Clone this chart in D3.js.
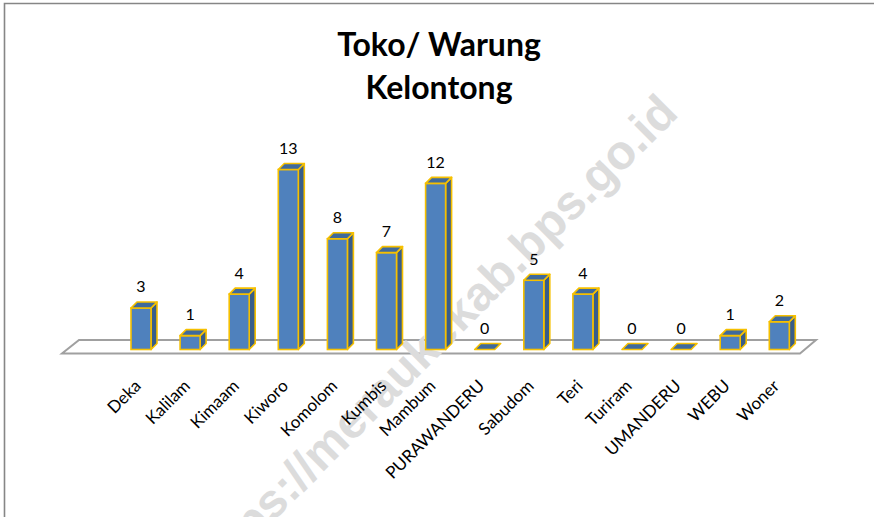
<!DOCTYPE html>
<html>
<head>
<meta charset="utf-8">
<script src="https://cdn.jsdelivr.net/npm/d3@7"></script>
<style>
  html, body { margin: 0; padding: 0; background: #fff; }
  svg { display: block; }
</style>
</head>
<body>
<svg id="chart" width="874" height="517"></svg>
<script>
const categories = ["Deka", "Kalilam", "Kimaam", "Kiworo", "Komolom", "Kumbis", "Mambum",
                    "PURAWANDERU", "Sabudom", "Teri", "Turiram", "UMANDERU", "WEBU", "Woner"];
const values = [3, 1, 4, 13, 8, 7, 12, 0, 5, 4, 0, 0, 1, 2];
const titleLines = ["Toko/ Warung", "Kelontong"];
const watermarkText = "https://meraukekab.bps.go.id";

(function () {
const W = 874, H = 517;
const svg = d3.select("#chart");

// frame (left + top border)
svg.append("path")
  .attr("d", `M4.5,${H} L4.5,3.5 L${W},3.5`)
  .attr("fill", "none").attr("stroke", "#868686").attr("stroke-width", 1.6);

// scales
const x = d3.scalePoint().domain(categories).range([141, 779.3]);
const y = d3.scaleLinear().domain([0, 13]).range([349.5, 169.5]);
const barW = 20, dx = 6, dy = -6;

// floor
const floorFront = 353.5, floorBack = 340;
const fl = { x0: 62, x1: 800, bx0: 79, bx1: 816 };
svg.append("path")
  .attr("d", `M${fl.x0},${floorFront} L${fl.x1},${floorFront} L${fl.bx1},${floorBack} L${fl.bx0},${floorBack} Z`)
  .attr("fill", "#fff").attr("stroke", "#a0a0a0").attr("stroke-width", 2);

// watermark
svg.append("text")
  .attr("transform", "translate(680,115) rotate(-45)")
  .attr("text-anchor", "end")
  .attr("font-family", "Liberation Sans, Arial, sans-serif")
  .attr("font-weight", "bold")
  .attr("font-size", 48)
  .attr("fill", "#dcdcdc")
  .text(watermarkText);

// bars
const stroke = "#F6C000", sw = 1.6;
const frontCol = "#4F81BD", sideCol = "#385D8A", topCol = "#3F6A9C";
const g = svg.append("g");
categories.forEach((c, i) => {
  const v = values[i];
  const cx = x(c), x0 = cx - barW / 2, x1 = cx + barW / 2;
  const y0 = y(0), y1 = y(v);
  const bg = g.append("g");
  if (v > 0) {
    bg.append("path")
      .attr("d", `M${x1},${y1} L${x1 + dx},${y1 + dy} L${x1 + dx},${y0 + dy} L${x1},${y0} Z`)
      .attr("fill", sideCol).attr("stroke", stroke).attr("stroke-width", sw).attr("stroke-linejoin", "round");
    bg.append("rect")
      .attr("x", x0).attr("y", y1).attr("width", barW).attr("height", y0 - y1)
      .attr("fill", frontCol).attr("stroke", stroke).attr("stroke-width", sw);
  }
  bg.append("path")
    .attr("d", `M${x0},${y1} L${x1},${y1} L${x1 + dx},${y1 + dy} L${x0 + dx},${y1 + dy} Z`)
    .attr("fill", topCol).attr("stroke", stroke).attr("stroke-width", sw).attr("stroke-linejoin", "round");
  svg.append("text")
    .attr("x", cx).attr("y", y1 - 15.5)
    .attr("text-anchor", "middle")
    .attr("font-family", "Lato, sans-serif")
    .attr("font-size", 16)
    .attr("fill", "#000")
    .text(v);
  svg.append("text")
    .attr("transform", `translate(${cx + 1},387) rotate(-45)`)
    .attr("text-anchor", "end")
    .attr("font-family", "Lato, sans-serif")
    .attr("font-size", 17)
    .attr("fill", "#000")
    .text(c);
});

// title
const title = svg.append("text")
  .attr("text-anchor", "middle")
  .attr("font-family", "Lato, sans-serif")
  .attr("font-weight", "bold")
  .attr("font-size", 32)
  .attr("fill", "#000");
titleLines.forEach((t, i) => {
  title.append("tspan").attr("x", 439).attr("y", 56 + i * 43).text(t);
});
})();
</script>
</body>
</html>
